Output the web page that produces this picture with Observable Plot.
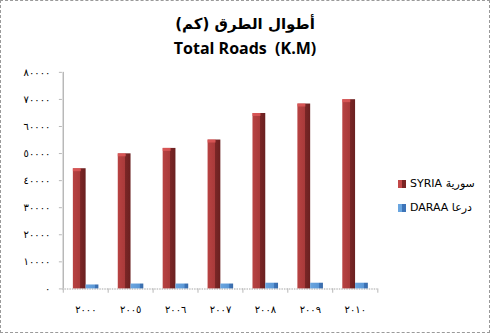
<!DOCTYPE html>
<html>
<head>
<meta charset="utf-8">
<script src="https://cdn.jsdelivr.net/npm/d3@7"></script>
<script src="https://cdn.jsdelivr.net/npm/@observablehq/plot@0.6"></script>
<style>
  html, body { margin: 0; padding: 0; background: #fff; }
  #wrap { position: relative; width: 490px; height: 333px; box-sizing: border-box; border: 1px dashed #9a9a9a; overflow: hidden; font-family: "DejaVu Sans", sans-serif; }
  #chart { position: absolute; left: -1px; top: -1px; }
  .t { position: absolute; left: 0; width: 100%; text-align: center; font-weight: bold; color: #000; }
  #t1 { top: 14px; font-size: 15px; font-family: "DejaVu Sans", sans-serif; }
  #t2 { top: 36px; font-size: 16px; font-family: "Open Sans", "DejaVu Sans", sans-serif; }
  .leg { position: absolute; left: 397px; font-size: 11px; font-family: "DejaVu Sans", sans-serif; display: flex; align-items: center; white-space: nowrap; }
  .sw { width: 8px; height: 8px; margin-right: 4px; }
</style>
</head>
<body>
<div id="wrap">
  <div id="chart"></div>
  <div class="t" id="t1">أطوال الطرق (كم)</div>
  <div class="t" id="t2">Total Roads&nbsp; (K.M)</div>
  <div class="leg" style="top:176px"><div class="sw" style="background:linear-gradient(90deg,#c24848 0,#c24848 55%,#7a2424 56%)"></div><span>SYRIA سورية</span></div>
  <div class="leg" style="top:200px"><div class="sw" style="background:linear-gradient(90deg,#6aa6e0 0,#6aa6e0 55%,#3d74b8 56%)"></div><span>DARAA درعا</span></div>
</div>
<script>
const years = ["2000", "2005", "2006", "2007", "2008", "2009", "2010"];
const yearLabels = ["٢٠٠٠", "٢٠٠٥", "٢٠٠٦", "٢٠٠٧", "٢٠٠٨", "٢٠٠٩", "٢٠١٠"];
const syria = [44400, 49900, 51900, 55000, 64800, 68300, 69900];
const daraa = [1450, 1800, 1800, 1800, 2100, 2100, 2100];
const yTicks = [0, 10000, 20000, 30000, 40000, 50000, 60000, 70000, 80000];

const arabicDigits = s => String(s).replace(/[0-9]/g, d => "٠١٢٣٤٥٦٧٨٩"[+d]);

const syriaData = years.map((y, i) => ({year: y, value: syria[i]}));
const daraaData = years.map((y, i) => ({year: y, value: daraa[i]}));
const labelOf = Object.fromEntries(years.map((y, i) => [y, yearLabels[i]]));

const plot = Plot.plot({
  width: 490,
  height: 333,
  marginTop: 72,
  marginBottom: 44,
  marginLeft: 62,
  marginRight: 112,
  style: {fontFamily: "DejaVu Sans, sans-serif", fontSize: "10px", background: "transparent", color: "#000"},
  x: {domain: years, padding: 0, axis: null},
  y: {domain: [0, 80000], axis: null},
  marks: [
    // y axis ticks and labels
    Plot.axisY({ticks: yTicks, tickSize: 3, tickPadding: 9, stroke: "#b8b8b8", tickFormat: d => arabicDigits(d), fill: "#000", fontSize: 10, label: null}),
    // y axis line
    Plot.ruleX([years[0]], {x: d => d, dx: -22.6, y1: 0, y2: 80000, stroke: "#b8b8b8", strokeWidth: 1.5}),
    // bottom floor line
    Plot.ruleY([0], {stroke: "#c4c4c4", strokeWidth: 1.5, strokeDasharray: "1.5,1"}),
    // category boundary ticks
    Plot.ruleX(years, {x: d => d, dx: -22.6, y1: 0, y2: -1600, stroke: "#b8b8b8"}),
    Plot.ruleX([years[years.length - 1]], {x: d => d, dx: 22.6, y1: 0, y2: -1600, stroke: "#b8b8b8"}),
    // bars
    Plot.barY(syriaData, {x: "year", y: "value", fill: "url(#gRed)", insetLeft: 10, insetRight: 22.2}),
    Plot.barY(syriaData, {x: "year", y1: d => d.value - 1100, y2: "value", fill: "#e05a5a", insetLeft: 10, insetRight: 27, opacity: 0.8}),
    Plot.barY(daraaData, {x: "year", y: "value", fill: "url(#gBlue)", insetLeft: 22.8, insetRight: 9.4}),
    // x labels
    Plot.text(years, {x: d => d, y: 0, dy: 21, text: d => labelOf[d], fontSize: 10, fill: "#000"})
  ]
});

const ns = "http://www.w3.org/2000/svg";
const defs = document.createElementNS(ns, "defs");
defs.innerHTML = `
  <linearGradient id="gRed" x1="0" x2="1" y1="0" y2="0">
    <stop offset="0" stop-color="#b84242"/>
    <stop offset="0.58" stop-color="#a83a3a"/>
    <stop offset="0.6" stop-color="#7a2626"/>
    <stop offset="1" stop-color="#6a2020"/>
  </linearGradient>
  <linearGradient id="gBlue" x1="0" x2="1" y1="0" y2="0">
    <stop offset="0" stop-color="#6aa6e0"/>
    <stop offset="0.7" stop-color="#5b97d6"/>
    <stop offset="0.72" stop-color="#3d74b8"/>
    <stop offset="1" stop-color="#3a6caa"/>
  </linearGradient>`;
plot.insertBefore(defs, plot.firstChild);
document.getElementById("chart").appendChild(plot);
</script>
</body>
</html>
